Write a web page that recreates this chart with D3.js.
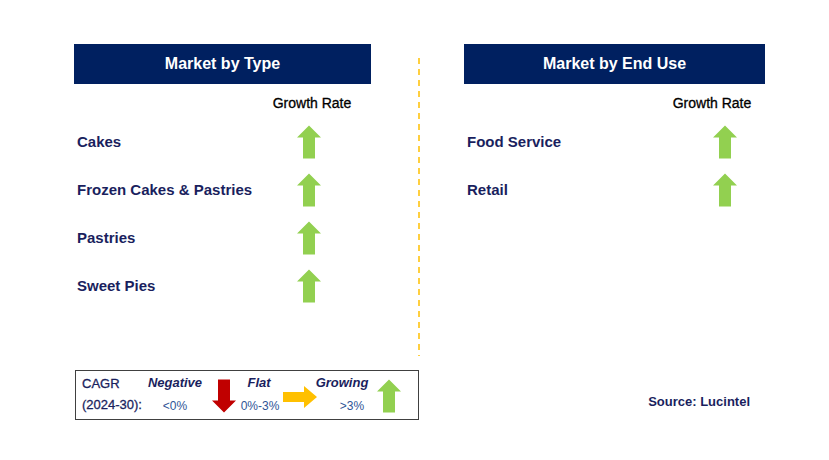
<!DOCTYPE html>
<html>
<head>
<meta charset="utf-8">
<script src="https://cdn.jsdelivr.net/npm/d3@7/dist/d3.min.js"></script>
<style>
  body { margin: 0; background: #fff; }
  svg { display: block; font-family: "Liberation Sans", Arial, sans-serif; }
</style>
</head>
<body>
<svg id="chart" width="829" height="460"></svg>
<script>
// Segment data
const typeCategories = ['Cakes', 'Frozen Cakes & Pastries', 'Pastries', 'Sweet Pies'];
const typeGrowth = ['up', 'up', 'up', 'up'];
const endUseCategories = ['Food Service', 'Retail'];
const endUseGrowth = ['up', 'up'];

// Legend
const legendLabels = ['Negative', 'Flat', 'Growing'];
const legendRanges = ['<0%', '0%-3%', '>3%'];
const legendArrows = ['down', 'right', 'up'];

const navy = '#002060';
const textNavy = '#1a1f5e';
const colors = { up: '#92D050', down: '#C00000', right: '#FFC000' };

const svg = d3.select('#chart');

// arrow path centred at (cx, cy)
function arrowPath(dir, cx, cy) {
    if (dir === 'right') {
        const w = 34, h = 22, sh = 10, hl = 13;
        const x0 = cx - w / 2, x1 = cx + w / 2, xh = x1 - hl;
        return `M${x0},${cy - sh / 2}H${xh}V${cy - h / 2}L${x1},${cy}L${xh},${cy + h / 2}V${cy + sh / 2}H${x0}Z`;
    }
    const w = 24, h = 33, sw = 12, hl = 12;
    const s = dir === 'up' ? 1 : -1;
    const tip = cy - s * h / 2, base = cy + s * h / 2, hb = tip + s * hl;
    return `M${cx},${tip}L${cx + w / 2},${hb}H${cx + sw / 2}V${base}H${cx - sw / 2}V${hb}H${cx - w / 2}Z`;
}

function panel(x0, x1, title, cats, growth, arrowX, labelX) {
    svg.append('rect')
        .attr('x', x0).attr('y', 44)
        .attr('width', x1 - x0).attr('height', 40)
        .attr('fill', navy);
    svg.append('text')
        .attr('x', (x0 + x1) / 2).attr('y', 69)
        .attr('text-anchor', 'middle')
        .attr('font-size', '16px').attr('font-weight', 'bold')
        .attr('fill', '#fff')
        .text(title);

    svg.append('text')
        .attr('x', labelX).attr('y', 108)
        .attr('text-anchor', 'middle')
        .attr('font-size', '14px')
        .attr('fill', '#000')
        .attr('stroke', '#000').attr('stroke-width', 0.3)
        .text('Growth Rate');

    const y = d3.scalePoint()
        .domain(d3.range(4))
        .range([142, 286]);

    svg.selectAll(null)
        .data(cats)
        .enter()
        .append('text')
        .attr('x', x0 + 3)
        .attr('y', (d, i) => y(i) + 5)
        .attr('font-size', '15px').attr('font-weight', 'bold')
        .attr('fill', textNavy)
        .text(d => d);

    svg.selectAll(null)
        .data(growth)
        .enter()
        .append('path')
        .attr('d', (d, i) => arrowPath(d, arrowX, y(i)))
        .attr('fill', d => colors[d]);
}

panel(74, 371, 'Market by Type', typeCategories, typeGrowth, 309, 312);
panel(464, 765, 'Market by End Use', endUseCategories, endUseGrowth, 725, 712);

// divider
svg.append('line')
    .attr('x1', 419).attr('x2', 419)
    .attr('y1', 58).attr('y2', 356)
    .attr('stroke', '#FFC000')
    .attr('stroke-width', 1.5)
    .attr('stroke-dasharray', '6,5');

// legend box
const lg = svg.append('g');
lg.append('rect')
    .attr('x', 75.5).attr('y', 370.5)
    .attr('width', 343).attr('height', 49)
    .attr('fill', '#fff')
    .attr('stroke', '#404040')
    .attr('stroke-width', 1);

lg.append('text')
    .attr('x', 82).attr('y', 388)
    .attr('font-size', '13px').attr('fill', textNavy)
    .attr('stroke', textNavy).attr('stroke-width', 0.3)
    .text('CAGR');
lg.append('text')
    .attr('x', 82).attr('y', 409)
    .attr('font-size', '13px').attr('fill', textNavy)
    .attr('stroke', textNavy).attr('stroke-width', 0.3)
    .text('(2024-30):');

const lx = d3.scaleOrdinal().domain(legendLabels).range([175, 259, 342]);
const ax = d3.scaleOrdinal().domain(legendLabels).range([224, 300, 389]);

lg.selectAll(null)
    .data(legendLabels)
    .enter()
    .append('text')
    .attr('x', d => lx(d)).attr('y', 387)
    .attr('text-anchor', 'middle')
    .attr('font-size', '13px').attr('font-weight', 'bold').attr('font-style', 'italic')
    .attr('fill', textNavy)
    .text(d => d);

lg.selectAll(null)
    .data(legendRanges)
    .enter()
    .append('text')
    .attr('x', (d, i) => lx(legendLabels[i]) + [0, 1, 10][i])
    .attr('y', 410)
    .attr('text-anchor', 'middle')
    .attr('font-size', '12px')
    .attr('fill', '#2f5597')
    .text(d => d);

lg.selectAll(null)
    .data(legendArrows)
    .enter()
    .append('path')
    .attr('d', (d, i) => arrowPath(d, ax(legendLabels[i]), d === 'right' ? 397 : 396))
    .attr('fill', d => colors[d]);

// source
svg.append('text')
    .attr('x', 750).attr('y', 406)
    .attr('text-anchor', 'end')
    .attr('font-size', '13px').attr('font-weight', 'bold')
    .attr('fill', textNavy)
    .text('Source: Lucintel');
</script>
</body>
</html>
